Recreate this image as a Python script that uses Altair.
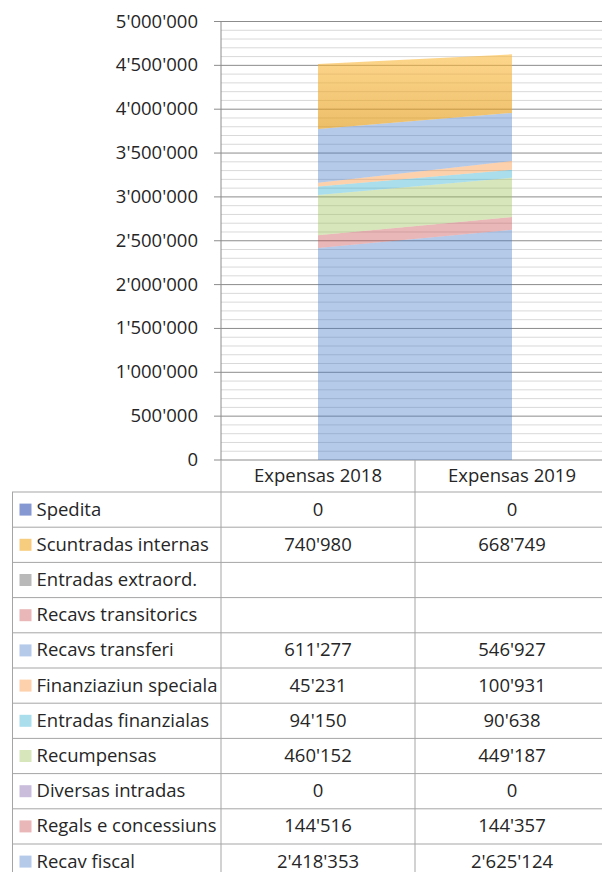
import altair as alt
import pandas as pd

# ---------------- data ----------------
categories = ["Expensas 2018", "Expensas 2019"]
series_bottom_up = [
    "Recav fiscal", "Regals e concessiuns", "Diversas intradas", "Recumpensas",
    "Entradas finanzialas", "Finanziaziun speciala", "Recavs transferi",
    "Recavs transitorics", "Entradas extraord.", "Scuntradas internas", "Spedita",
]
values_2018 = [2418353, 144516, 0, 460152, 94150, 45231, 611277, None, None, 740980, 0]
values_2019 = [2625124, 144357, 0, 449187, 90638, 100931, 546927, None, None, 668749, 0]
y_tick_values = list(range(0, 5000001, 500000))
minor_grid_values = list(range(0, 5000001, 100000))

# ---------------- styles ----------------
base_colors = [
    "#4678C8", "#C84B4B", "#7A5AA8", "#9DC154", "#2DACD2", "#F98C30",
    "#4678C8", "#C84B4B", "#505050", "#F0AA28", "#516CBD",
]
opacities = [0.4, 0.4, 0.4, 0.4, 0.4, 0.4, 0.4, 0.4, 0.4, 0.6, 0.7]
GOLD_SERIES = "Scuntradas internas"
gold_gradient = alt.LinearGradient(
    gradient="linear", x1=0, y1=0, x2=0, y2=1,
    stops=[alt.GradientStop(offset=0, color="#FDBB3F"),
           alt.GradientStop(offset=1, color="#DF9305")],
)
FONT = "Open Sans"
FS = 18.5
TXT = "#262626"
AXIS_GRAY = "#8c8c8c"
TABLE_GRAY = "#a5a5a5"

series_top_down = list(reversed(series_bottom_up))
cat_pos = [0.5, 1.5]

rows = []
for i, s in enumerate(series_bottom_up):
    for c, p, vals in zip(categories, cat_pos, [values_2018, values_2019]):
        rows.append({"series": s, "rank": i, "category": c, "pos": p, "value": vals[i]})
df = pd.DataFrame(rows)
df["area_value"] = df["value"].fillna(0)

grid_df = pd.DataFrame({"level": minor_grid_values})
grid_df["major"] = grid_df["level"] % 500000 == 0
ticks_df = pd.DataFrame({"level": y_tick_values})
header_df = pd.DataFrame({"category": categories, "pos": cat_pos})
bounds_df = pd.DataFrame({"b": [0, 1, 2]})
names_df = pd.DataFrame({"series": series_top_down})

W, H = 590, 859
ROW_TOP, ROW_H = 479, 35.2
xs = alt.Scale(domain=[0, 2], range=[209, 597], nice=False, zero=False)
ys_area = alt.Scale(domain=[0, 5000000], range=[447, 8.5], nice=False, zero=False)
ys_table = alt.Scale(type="band", domain=series_top_down,
                     range=[ROW_TOP, ROW_TOP + ROW_H * len(series_top_down)],
                     paddingInner=0, paddingOuter=0)
color_scale = alt.Scale(domain=series_bottom_up, range=base_colors)
op_scale = alt.Scale(type="ordinal", domain=series_bottom_up, range=opacities)

apos = "join(split(format(datum.{f}, ',.0f'), ','), \"'\")"
fmt_cell = "isValid(datum.value) ? " + apos.format(f="value") + " : ''"
fmt_tick = apos.format(f="level")

# ---------------- top: area chart ----------------
grid = alt.Chart(grid_df).mark_rule(strokeWidth=1).encode(
    x=alt.X(datum=0, type="quantitative", scale=xs, axis=None),
    x2=alt.X2(datum=2),
    y=alt.Y("level:Q", scale=ys_area, axis=None),
    color=alt.condition(alt.datum.major, alt.value(AXIS_GRAY), alt.value("#d9d9d9")),
)

stacked = alt.Chart(df).transform_stack(
    stack="area_value", groupby=["pos"], as_=["y0", "y1"],
    sort=[alt.SortField("rank", order="ascending")],
)

area = stacked.transform_filter(alt.datum.series != GOLD_SERIES).mark_area(
    interpolate="linear"
).encode(
    x=alt.X("pos:Q", scale=xs, axis=None),
    y=alt.Y("y0:Q", scale=ys_area, axis=None),
    y2="y1:Q",
    color=alt.Color("series:N", scale=color_scale, legend=None),
    opacity=alt.Opacity("series:N", scale=op_scale, legend=None),
    detail="series:N",
)

gold = stacked.transform_filter(alt.datum.series == GOLD_SERIES).mark_area(
    interpolate="linear", color=gold_gradient, opacity=0.6
).encode(
    x=alt.X("pos:Q", scale=xs, axis=None),
    y=alt.Y("y0:Q", scale=ys_area, axis=None),
    y2="y1:Q",
)

tick_marks = alt.Chart(ticks_df).mark_rule(color=AXIS_GRAY, strokeWidth=1).encode(
    x=alt.value(202), x2=alt.value(209),
    y=alt.Y("level:Q", scale=ys_area, axis=None),
)

tick_labels = alt.Chart(ticks_df).transform_calculate(lab=fmt_tick).mark_text(
    font=FONT, fontSize=FS, color=TXT, align="right", baseline="middle"
).encode(
    x=alt.value(186),
    y=alt.Y("level:Q", scale=ys_area, axis=None),
    text="lab:N",
)

y_domain = alt.Chart(ticks_df).mark_rule(color=AXIS_GRAY, strokeWidth=1).encode(
    x=alt.X(datum=0, type="quantitative", scale=xs, axis=None),
    y=alt.Y("min(level):Q", scale=ys_area, axis=None),
    y2=alt.Y2("max(level):Q"),
)

top = alt.layer(grid, area, gold, tick_marks, tick_labels, y_domain)

# ---------------- bottom: data table ----------------
vrules = alt.Chart(bounds_df).mark_rule(color=TABLE_GRAY, strokeWidth=1).encode(
    x=alt.X("b:Q", scale=xs, axis=None),
    y=alt.value(447),
    y2=alt.value(H + 20),
)

left_border = alt.Chart(names_df).mark_rule(color=TABLE_GRAY, strokeWidth=1).encode(
    x=alt.value(0.5),
    y=alt.value(ROW_TOP),
    y2=alt.value(H + 20),
)

hrules = alt.Chart(names_df).mark_rule(color=TABLE_GRAY, strokeWidth=1).encode(
    x=alt.value(0), x2=alt.value(W + 10),
    y=alt.Y("series:N", scale=ys_table, axis=None, bandPosition=0),
)

header = alt.Chart(header_df).mark_text(font=FONT, fontSize=FS, color=TXT, baseline="middle").encode(
    x=alt.X("pos:Q", scale=xs, axis=None),
    y=alt.value(463),
    text="category:N",
)

cells = alt.Chart(df).transform_calculate(label=fmt_cell).mark_text(
    font=FONT, fontSize=FS, color=TXT, baseline="middle"
).encode(
    x=alt.X("pos:Q", scale=xs, axis=None),
    y=alt.Y("series:N", scale=ys_table, axis=None),
    text="label:N",
)

names = alt.Chart(names_df).mark_text(
    font=FONT, fontSize=FS, color=TXT, align="left", baseline="middle"
).encode(
    x=alt.value(24.5),
    y=alt.Y("series:N", scale=ys_table, axis=None),
    text="series:N",
)

squares = alt.Chart(names_df).mark_point(shape="square", filled=True, size=144, strokeWidth=0).encode(
    x=alt.value(13.5),
    y=alt.Y("series:N", scale=ys_table, axis=None),
    color=alt.Color("series:N", scale=color_scale, legend=None),
    opacity=alt.Opacity("series:N", scale=op_scale, legend=None),
)

bottom = alt.layer(hrules, vrules, left_border, header, cells, names, squares)

chart = alt.layer(top, bottom).resolve_scale(y="independent").properties(
    width=W, height=H,
    autosize=alt.AutoSizeParams(type="none"),
    padding={"left": 4, "top": 5, "right": 0, "bottom": 0},
).configure_view(stroke=None)

chart.save("out.html", embed_options={"renderer": "svg", "actions": False})
